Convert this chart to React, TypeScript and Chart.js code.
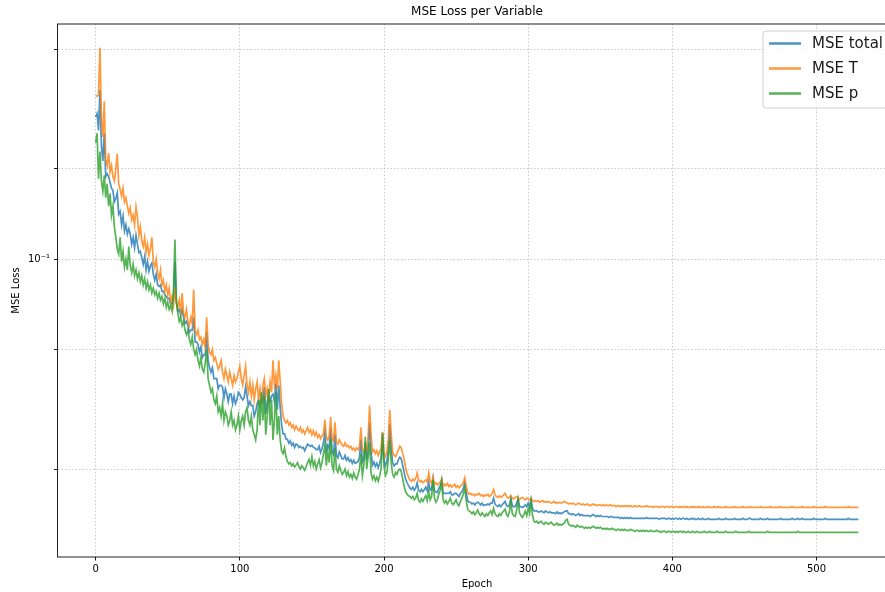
import { useEffect, useRef } from 'react';
import { Chart, registerables } from 'chart.js';

Chart.register(...registerables);

const chartTitle = 'MSE Loss per Variable';
const xAxisTitle = 'Epoch';
const yAxisTitle = 'MSE Loss';
const seriesLabels = ['MSE total', 'MSE T', 'MSE p'];
const seriesColors = ['rgba(31,119,180,0.8)', 'rgba(255,127,14,0.8)', 'rgba(44,160,44,0.8)'];

const xTickValues = [0, 100, 200, 300, 400, 500];
const xMin = -26.45;
const xMax = 555.45;
const yGridValues = [0.02, 0.05, 0.1, 0.2, 0.5];
const yLabelledValue = 0.1;
const yLabelledText = '10\u207B\u00B9';
const yMin = 0.01019;
const yMax = 0.6056;

const mseTotal = [
  .297,.305,.268,.366,.238,.212,.262,.188,.192,.188,
  .180,.172,.169,.155,.159,.166,.141,.144,.130,.139,
  .124,.130,.121,.126,.121,.112,.118,.109,.120,.112,
  .105,.106,.101,.096,.102,.092,.098,.091,.095,.097,
  .089,.085,.089,.082,.081,.082,.078,.078,.076,.075,
  .074,.074,.071,.071,.074,.098,.072,.067,.068,.065,
  .068,.064,.061,.062,.060,.057,.058,.058,.064,.053,
  .053,.052,.049,.051,.047,.048,.048,.057,.046,.0435,
  .042,.0435,.040,.040,.040,.037,.038,.038,.0375,.0345,
  .037,.0355,.0335,.0355,.0355,.033,.035,.033,.034,.036,
  .0355,.0345,.034,.0345,.0375,.035,.0325,.0335,.0325,.0325,
  .030,.031,.033,.034,.0325,.0345,.0335,.0375,.0305,.0335,
  .0355,.0335,.035,.0355,.0335,.0385,.0315,.038,.032,.028,
  .0262,.0262,.0252,.0251,.0244,.0248,.0240,.0244,.0236,.0242,
  .0241,.0236,.0238,.0235,.0236,.0230,.0236,.0242,.0240,.0238,
  .0240,.0236,.0235,.0232,.0232,.0238,.0227,.0234,.0244,.0266,
  .0230,.0240,.0234,.0274,.0228,.0223,.0260,.0222,.0218,.0228,
  .0222,.0216,.0216,.0222,.0214,.0218,.0212,.0215,.0209,.0214,
  .0209,.0210,.0212,.0219,.0250,.0211,.0216,.0246,.0215,.0238,
  .0285,.0228,.0206,.0211,.0204,.0209,.0202,.0209,.0218,.0264,
  .0215,.0205,.0212,.0232,.0282,.0235,.0210,.0205,.0208,.0208,
  .0215,.0219,.0216,.0205,.0195,.0185,.0180,.0176,.0173,.0171,
  .0174,.0170,.0173,.0180,.0170,.0168,.0171,.0168,.0171,.0174,
  .0169,.0181,.0170,.0171,.0186,.0169,.0168,.0167,.0172,.0176,
  .0184,.0166,.0166,.0166,.0166,.0166,.0168,.0164,.0164,.0166,
  .0166,.0164,.0162,.0166,.0168,.0172,.0180,.0167,.0157,.0155,
  .0155,.0153,.0154,.0152,.0154,.0155,.0154,.0152,.0154,.0151,
  .0152,.0152,.0153,.0152,.0154,.0154,.0160,.0153,.0151,.0150,
  .0152,.0150,.0152,.0154,.0156,.0151,.0150,.0152,.0160,.0151,
  .0150,.0150,.0154,.0159,.0150,.0150,.0149,.0150,.0152,.0150,
  .0154,.0150,.0158,.0148,.0145,.0145,.0145,.0144,.0144,.0145,
  .0144,.0143,.0145,.0144,.0143,.0144,.0143,.0143,.0143,.0142,
  .0144,.0142,.0143,.0142,.0143,.0144,.0145,.0145,.0142,.0142,
  .0141,.0142,.0141,.0140,.0141,.0142,.0140,.0141,.0140,.0140,
  .0140,.0140,.0140,.0139,.0140,.0141,.0140,.0139,.0140,.0139,
  .0140,.0139,.0139,.0139,.0139,.0139,.0138,.0139,.0139,.0138,
  .0138,.0138,.0138,.0138,.0137,.0138,.0137,.0138,.0137,.0138,
  .0137,.0138,.0137,.0137,.0137,.0137,.0137,.0137,.0137,.0137,
  .0137,.0137,.0138,.0137,.0137,.0137,.0137,.0137,.0137,.0137,
  .0137,.0136,.0137,.0137,.0137,.0137,.0136,.0137,.0137,.0136,
  .0137,.0136,.0137,.0137,.0136,.0137,.0136,.0137,.0137,.0136,
  .0137,.0136,.0136,.0137,.0136,.0137,.0136,.0136,.0137,.0136,
  .0136,.0137,.0136,.0136,.0136,.0137,.0136,.0136,.0136,.0136,
  .0136,.0136,.0137,.0136,.0136,.0136,.0136,.0137,.0136,.0136,
  .0136,.0136,.0136,.0137,.0136,.0136,.0136,.0136,.0136,.0137,
  .0136,.0136,.0136,.0137,.0137,.0136,.0136,.0136,.0136,.0136,
  .0136,.0137,.0136,.0136,.0136,.0136,.0137,.0136,.0136,.0136,
  .0136,.0136,.0136,.0136,.0136,.0137,.0136,.0136,.0136,.0136,
  .0136,.0136,.0136,.0137,.0136,.0136,.0136,.0137,.0136,.0136,
  .0137,.0136,.0136,.0136,.0136,.0136,.0136,.0136,.0137,.0136,
  .0136,.0136,.0136,.0136,.0136,.0136,.0137,.0136,.0136,.0136,
  .0136,.0136,.0136,.0136,.0136,.0136,.0136,.0136,.0136,.0136,
  .0136,.0136,.0137,.0136,.0136,.0136,.0136,.0136,.0136,.0136,
];

const mseT = [
  .350,.348,.352,.505,.295,.255,.335,.215,.205,.225,
  .195,.205,.188,.182,.200,.224,.178,.170,.162,.172,
  .155,.160,.150,.142,.148,.135,.140,.130,.149,.138,
  .120,.128,.115,.110,.118,.105,.112,.103,.108,.118,
  .098,.094,.100,.090,.086,.092,.082,.085,.078,.082,
  .076,.080,.072,.075,.070,.080,.072,.069,.073,.067,
  .077,.066,.064,.068,.062,.060,.064,.061,.079,.058,
  .056,.058,.054,.055,.052,.054,.051,.064,.052,.049,
  .048,.050,.046,.047,.045,.043,.044,.046,.042,.040,
  .043,.041,.039,.042,.040,.038,.041,.039,.040,.042,
  .044,.040,.038,.041,.044,.038,.036,.039,.035,.038,
  .034,.037,.039,.034,.037,.033,.038,.040,.035,.037,
  .034,.039,.036,.046,.038,.041,.037,.046,.039,.033,
  .0300,.0290,.0285,.0290,.0280,.0285,.0275,.0280,.0270,.0278,
  .0272,.0268,.0275,.0265,.0270,.0262,.0268,.0275,.0265,.0270,
  .0260,.0268,.0258,.0265,.0255,.0260,.0252,.0258,.0262,.0292,
  .0255,.0250,.0258,.0298,.0252,.0248,.0286,.0245,.0242,.0250,
  .0245,.0240,.0238,.0245,.0238,.0240,.0235,.0238,.0232,.0235,
  .0230,.0235,.0232,.0238,.0275,.0232,.0228,.0235,.0230,.0255,
  .0325,.0260,.0228,.0232,.0225,.0230,.0222,.0228,.0235,.0266,
  .0225,.0220,.0228,.0250,.0315,.0260,.0228,.0222,.0220,.0225,
  .0232,.0238,.0235,.0225,.0215,.0202,.0194,.0188,.0184,.0182,
  .0185,.0183,.0186,.0194,.0184,.0181,.0183,.0180,.0182,.0184,
  .0181,.0194,.0183,.0179,.0188,.0178,.0180,.0177,.0179,.0181,
  .0185,.0175,.0178,.0176,.0179,.0175,.0177,.0174,.0176,.0178,
  .0174,.0176,.0173,.0175,.0177,.0180,.0187,.0176,.0167,.0165,
  .0166,.0164,.0165,.0163,.0165,.0164,.0166,.0163,.0164,.0162,
  .0164,.0163,.0165,.0162,.0163,.0166,.0171,.0164,.0162,.0161,
  .0163,.0161,.0162,.0164,.0166,.0162,.0160,.0161,.0163,.0160,
  .0159,.0161,.0162,.0160,.0158,.0160,.0161,.0159,.0158,.0160,
  .0159,.0158,.0160,.0157,.0156,.0157,.0156,.0157,.0155,.0156,
  .0157,.0155,.0156,.0155,.0156,.0155,.0154,.0155,.0156,.0154,
  .0155,.0154,.0155,.0154,.0155,.0156,.0155,.0154,.0153,.0154,
  .0153,.0154,.0153,.0152,.0153,.0154,.0153,.0152,.0153,.0152,
  .0152,.0153,.0152,.0151,.0152,.0153,.0152,.0152,.0151,.0152,
  .0152,.0151,.0152,.0151,.0152,.0151,.0151,.0152,.0151,.0151,
  .0151,.0150,.0151,.0151,.0150,.0151,.0150,.0151,.0150,.0151,
  .0150,.0151,.0150,.0150,.0151,.0150,.0150,.0151,.0150,.0150,
  .0150,.0150,.0151,.0150,.0150,.0150,.0150,.0149,.0150,.0150,
  .0150,.0149,.0150,.0150,.0150,.0149,.0150,.0150,.0149,.0150,
  .0150,.0149,.0150,.0150,.0149,.0150,.0149,.0150,.0150,.0149,
  .0150,.0149,.0149,.0150,.0149,.0150,.0149,.0149,.0150,.0149,
  .0149,.0150,.0149,.0149,.0149,.0150,.0149,.0149,.0149,.0150,
  .0149,.0149,.0150,.0149,.0149,.0149,.0149,.0150,.0149,.0149,
  .0149,.0149,.0149,.0150,.0149,.0149,.0149,.0149,.0149,.0150,
  .0149,.0149,.0149,.0149,.0150,.0149,.0149,.0149,.0149,.0149,
  .0149,.0150,.0149,.0149,.0149,.0149,.0149,.0149,.0150,.0149,
  .0149,.0149,.0149,.0149,.0149,.0150,.0149,.0149,.0149,.0149,
  .0149,.0149,.0149,.0150,.0149,.0149,.0149,.0149,.0149,.0149,
  .0150,.0149,.0149,.0149,.0149,.0149,.0149,.0149,.0150,.0149,
  .0149,.0149,.0149,.0149,.0149,.0149,.0150,.0149,.0149,.0149,
  .0149,.0149,.0149,.0149,.0149,.0149,.0149,.0149,.0149,.0149,
  .0149,.0149,.0150,.0149,.0149,.0149,.0149,.0149,.0149,.0149,
];

const mseP = [
  .244,.262,.185,.228,.182,.168,.190,.160,.178,.150,
  .165,.140,.150,.128,.118,.108,.104,.118,.098,.106,
  .094,.100,.092,.110,.095,.090,.096,.088,.092,.086,
  .090,.084,.088,.082,.086,.080,.084,.079,.082,.077,
  .080,.076,.078,.074,.077,.073,.075,.071,.074,.069,
  .072,.068,.070,.067,.078,.116,.072,.066,.062,.064,
  .060,.062,.058,.056,.058,.054,.052,.055,.050,.048,
  .050,.046,.044,.047,.043,.042,.045,.050,.040,.038,
  .036,.037,.034,.033,.035,.031,.032,.030,.033,.029,
  .031,.030,.028,.029,.031,.028,.029,.027,.028,.030,
  .027,.029,.030,.028,.031,.032,.029,.028,.030,.027,
  .026,.025,.027,.034,.028,.036,.029,.035,.026,.030,
  .037,.028,.034,.025,.029,.036,.026,.030,.025,.023,
  .0225,.0235,.0220,.0212,.0208,.0210,.0205,.0208,.0203,.0206,
  .0210,.0204,.0200,.0205,.0202,.0198,.0204,.0210,.0215,.0206,
  .0220,.0205,.0212,.0200,.0208,.0215,.0202,.0210,.0225,.0240,
  .0205,.0230,.0210,.0250,.0205,.0198,.0235,.0200,.0195,.0205,
  .0198,.0192,.0195,.0200,.0190,.0196,.0188,.0192,.0186,.0194,
  .0188,.0185,.0192,.0200,.0225,.0190,.0205,.0256,.0200,.0220,
  .0245,.0195,.0185,.0190,.0183,.0188,.0182,.0190,.0200,.0262,
  .0205,.0190,.0195,.0215,.0250,.0210,.0192,.0188,.0195,.0192,
  .0198,.0200,.0196,.0185,.0175,.0168,.0165,.0163,.0162,.0160,
  .0162,.0158,.0160,.0166,.0157,.0155,.0159,.0156,.0160,.0163,
  .0157,.0168,.0158,.0162,.0184,.0160,.0155,.0158,.0165,.0170,
  .0182,.0158,.0154,.0157,.0153,.0156,.0160,.0154,.0152,.0155,
  .0158,.0153,.0151,.0156,.0160,.0165,.0173,.0158,.0147,.0145,
  .0144,.0142,.0144,.0141,.0143,.0146,.0142,.0140,.0143,.0141,
  .0139,.0142,.0140,.0143,.0145,.0141,.0148,.0142,.0140,.0139,
  .0142,.0140,.0143,.0145,.0147,.0141,.0139,.0144,.0156,.0142,
  .0140,.0139,.0146,.0158,.0143,.0140,.0138,.0141,.0145,.0140,
  .0148,.0142,.0156,.0140,.0134,.0133,.0134,.0132,.0133,.0134,
  .0132,.0131,.0133,.0132,.0131,.0132,.0133,.0131,.0130,.0131,
  .0132,.0130,.0131,.0130,.0131,.0132,.0135,.0136,.0131,.0130,
  .0129,.0130,.0129,.0128,.0130,.0129,.0128,.0129,.0128,.0127,
  .0128,.0127,.0128,.0127,.0128,.0129,.0128,.0127,.0128,.0127,
  .0128,.0127,.0126,.0127,.0126,.0127,.0126,.0126,.0127,.0126,
  .0126,.0125,.0126,.0126,.0125,.0126,.0125,.0126,.0125,.0125,
  .0125,.0126,.0125,.0125,.0124,.0125,.0125,.0124,.0125,.0124,
  .0125,.0124,.0125,.0124,.0124,.0125,.0124,.0124,.0124,.0125,
  .0124,.0124,.0123,.0124,.0124,.0124,.0123,.0124,.0124,.0123,
  .0124,.0124,.0123,.0124,.0123,.0124,.0124,.0123,.0124,.0123,
  .0123,.0124,.0123,.0123,.0124,.0123,.0123,.0124,.0123,.0123,
  .0123,.0123,.0124,.0123,.0123,.0123,.0124,.0123,.0123,.0123,
  .0123,.0124,.0123,.0123,.0123,.0123,.0123,.0124,.0123,.0123,
  .0123,.0123,.0123,.0123,.0124,.0123,.0123,.0123,.0123,.0123,
  .0123,.0123,.0123,.0124,.0123,.0123,.0123,.0123,.0123,.0123,
  .0123,.0123,.0123,.0123,.0123,.0123,.0124,.0123,.0123,.0123,
  .0123,.0123,.0123,.0123,.0123,.0123,.0123,.0123,.0123,.0123,
  .0123,.0123,.0123,.0123,.0123,.0123,.0123,.0124,.0123,.0123,
  .0123,.0123,.0123,.0123,.0123,.0123,.0123,.0123,.0123,.0123,
  .0123,.0123,.0123,.0123,.0123,.0123,.0123,.0123,.0123,.0123,
  .0123,.0123,.0123,.0123,.0123,.0123,.0123,.0123,.0123,.0123,
  .0123,.0123,.0123,.0123,.0123,.0123,.0123,.0123,.0123,.0123,
];

const FONT = '"DejaVu Sans", "Liberation Sans", sans-serif';

const decorPlugin = {
  id: 'decor',
  afterDraw(chart: any) {
    const { ctx, chartArea: a } = chart;
    ctx.save();
    // axes frame (spines)
    ctx.strokeStyle = '#222';
    ctx.lineWidth = 1;
    ctx.setLineDash([]);
    ctx.strokeRect(a.left, a.top, a.right - a.left, a.bottom - a.top);
    // title
    ctx.fillStyle = '#000';
    ctx.font = `12px ${FONT}`;
    ctx.textAlign = 'center';
    ctx.textBaseline = 'middle';
    ctx.fillText(chartTitle, (a.left + a.right) / 2, a.top - 12);
    // legend
    const bx = a.right - 133.5;
    const by = a.top + 7;
    const bw = 126;
    const bh = 77;
    ctx.beginPath();
    if ((ctx as any).roundRect) (ctx as any).roundRect(bx, by, bw, bh, 3);
    else ctx.rect(bx, by, bw, bh);
    ctx.fillStyle = 'rgba(255,255,255,0.8)';
    ctx.fill();
    ctx.strokeStyle = '#d0d0d0';
    ctx.lineWidth = 1;
    ctx.stroke();
    ctx.font = `15px ${FONT}`;
    ctx.textAlign = 'left';
    chart.data.datasets.forEach((ds: any, i: number) => {
      const cy = by + 12.5 + i * 25;
      ctx.strokeStyle = ds.borderColor;
      ctx.lineWidth = 2.5;
      ctx.beginPath();
      ctx.moveTo(bx + 6, cy);
      ctx.lineTo(bx + 38, cy);
      ctx.stroke();
      ctx.fillStyle = '#1a1a1a';
      ctx.fillText(ds.label, bx + 49, cy + 1);
    });
    ctx.restore();
  },
};

const gridCommon = {
  color: 'rgba(170,170,170,0.8)',
  lineWidth: 0.8,
  drawTicks: true,
  tickLength: 3.5,
  tickColor: '#000',
  tickWidth: 0.9,
};

export default function App() {
  const ref = useRef<HTMLCanvasElement>(null);

  useEffect(() => {
    const series = [mseTotal, mseT, mseP];
    const chart = new Chart(ref.current as HTMLCanvasElement, {
      type: 'line',
      data: {
        datasets: series.map((vals, k) => ({
          label: seriesLabels[k],
          data: vals.map((v, i) => ({ x: i, y: v })),
          borderColor: seriesColors[k],
          backgroundColor: seriesColors[k],
          borderWidth: 1.7,
          pointRadius: 0,
          tension: 0,
          fill: false,
          order: 3 - k,
        })),
      },
      options: {
        responsive: false,
        animation: false,
        devicePixelRatio: 1,
        layout: { padding: { left: 0, right: 23.5, top: 24, bottom: 0 } },
        plugins: {
          legend: { display: false },
          title: { display: false },
          tooltip: { enabled: false },
        },
        scales: {
          x: {
            type: 'linear',
            min: xMin,
            max: xMax,
            afterBuildTicks: (s: any) => {
              s.ticks = xTickValues.map((v) => ({ value: v }));
            },
            afterFit: (s: any) => {
              s.height = 35;
            },
            ticks: {
              autoSkip: false,
              maxRotation: 0,
              padding: 3,
              color: '#000',
              font: { family: FONT, size: 10 },
              callback: (v: any) => String(v),
            },
            grid: gridCommon,
            border: { display: false, dash: [1.5, 2] },
            title: {
              display: true,
              text: xAxisTitle,
              color: '#000',
              font: { family: FONT, size: 10 },
              padding: { top: 0, bottom: 2 },
            },
          },
          y: {
            type: 'logarithmic',
            min: yMin,
            max: yMax,
            afterBuildTicks: (s: any) => {
              s.ticks = yGridValues.map((v) => ({ value: v }));
            },
            afterFit: (s: any) => {
              s.width = 57.5;
            },
            ticks: {
              autoSkip: false,
              padding: 4,
              color: '#000',
              font: { family: FONT, size: 10 },
              callback: (v: any) => (Math.abs(v - yLabelledValue) < 1e-9 ? yLabelledText : ''),
            },
            grid: gridCommon,
            border: { display: false, dash: [1.5, 2] },
            title: {
              display: true,
              text: yAxisTitle,
              color: '#000',
              font: { family: FONT, size: 10 },
              padding: { top: 10, bottom: 0 },
            },
          },
        },
      } as any,
      plugins: [decorPlugin],
    });
    return () => chart.destroy();
  }, []);

  return (
    <div
      style={{
        position: 'absolute',
        left: 0,
        top: 0,
        width: 885,
        height: 592,
        overflow: 'hidden',
        background: '#fff',
      }}
    >
      <canvas ref={ref} width={920} height={592} style={{ display: 'block', width: 920, height: 592 }} />
    </div>
  );
}
